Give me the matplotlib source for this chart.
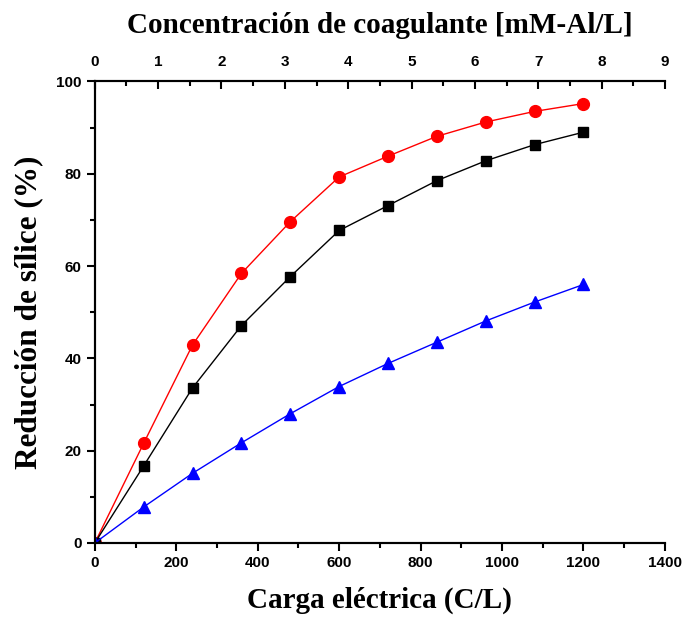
import matplotlib.pyplot as plt
from matplotlib.ticker import MultipleLocator

# carga eléctrica aplicada (C/L)
carga = [0, 120, 240, 360, 480, 600, 720, 840, 960, 1080, 1200]

# reducción de sílice (%) para cada serie
serie_roja = [0, 21.6, 42.9, 58.4, 69.6, 79.3, 83.8, 88.1, 91.2, 93.5, 95.2]
serie_negra = [0, 16.7, 33.6, 47.1, 57.7, 67.7, 73.1, 78.5, 82.8, 86.3, 89.0]
serie_azul = [0, 7.8, 15.1, 21.7, 28.0, 33.9, 38.9, 43.5, 48.1, 52.2, 56.0]

tick_font = {'family': 'Liberation Sans', 'weight': 'bold', 'size': 11}
label_font = {'family': 'Liberation Serif', 'weight': 'bold', 'size': 21}

fig = plt.figure(figsize=(6.82, 6.19), dpi=100)
ax = fig.add_axes([0.139, 0.1228, 0.836, 0.7457])

ax.plot(carga, serie_roja, color='red', lw=1, marker='o', ms=8.5)
ax.plot(carga, serie_negra, color='black', lw=1, marker='s', ms=7)
ax.plot(carga, serie_azul, color='blue', lw=1, marker='^', ms=8.5)

ax.set_xlim(0, 1400)
ax.set_ylim(0, 100)
ax.xaxis.set_major_locator(MultipleLocator(200))
ax.xaxis.set_minor_locator(MultipleLocator(100))
ax.yaxis.set_major_locator(MultipleLocator(20))
ax.yaxis.set_minor_locator(MultipleLocator(10))
ax.spines['right'].set_visible(False)
for s in ax.spines.values():
    s.set_linewidth(1.5)
ax.tick_params(which='major', direction='out', length=6, width=1.5)
ax.tick_params(which='minor', direction='out', length=3.5, width=1.5)
ax.tick_params(top=False, right=False)
for lab in ax.get_xticklabels() + ax.get_yticklabels():
    lab.set_fontproperties(tick_font)
ax.set_xlabel('Carga eléctrica (C/L)', fontdict=label_font, labelpad=12)
ax.set_ylabel('Reducción de sílice (%)', fontdict=dict(label_font, size=22.5), labelpad=9)

# eje superior: concentración de coagulante
ax2 = ax.twiny()
ax2.set_xlim(0, 9)
ax2.xaxis.set_major_locator(MultipleLocator(1))
ax2.xaxis.set_minor_locator(MultipleLocator(0.5))
ax2.spines['right'].set_visible(False)
for s in ax2.spines.values():
    s.set_linewidth(1.5)
ax2.tick_params(which='major', direction='in', length=6, width=1.5, pad=9)
ax2.tick_params(which='minor', direction='in', length=3.5, width=1.5)
for lab in ax2.get_xticklabels():
    lab.set_fontproperties(tick_font)
ax2.set_xlabel('Concentración de coagulante [mM-Al/L]', fontdict=label_font, labelpad=16)

fig.savefig('out.png', dpi=100)
